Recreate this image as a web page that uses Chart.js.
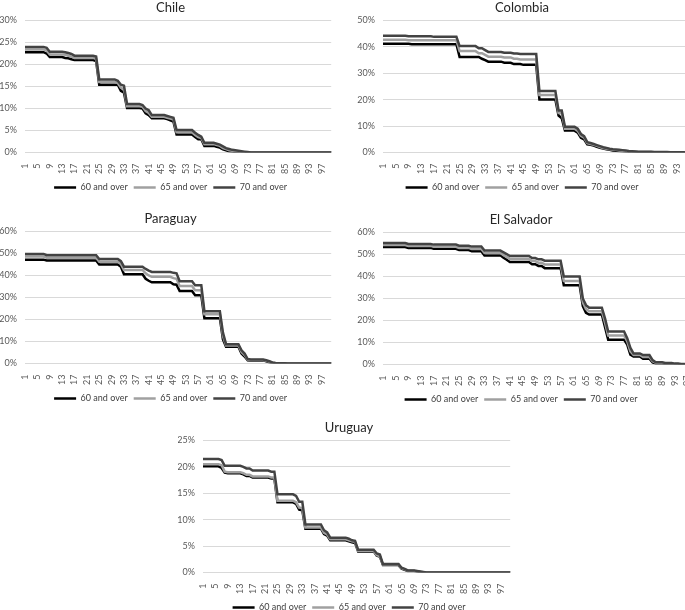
<!DOCTYPE html>
<html>
<head>
<meta charset="utf-8">
<title>Share by age threshold</title>
<script src="https://cdn.jsdelivr.net/npm/chart.js@4.4.1/dist/chart.umd.min.js"></script>
<style>
  html, body { margin: 0; padding: 0; background: #fff; overflow: hidden; }
  #page { position: relative; width: 685px; height: 610px; overflow: hidden; }
  .panel { position: absolute; }
</style>
</head>
<body>
<div id="page">
  <div class="panel" style="left:0px;top:0px"><canvas id="chile" width="345" height="202"></canvas></div>
  <div class="panel" style="left:345px;top:0px"><canvas id="colombia" width="372" height="202"></canvas></div>
  <div class="panel" style="left:0px;top:211px"><canvas id="paraguay" width="345" height="202"></canvas></div>
  <div class="panel" style="left:345px;top:212px"><canvas id="salvador" width="366" height="202"></canvas></div>
  <div class="panel" style="left:178px;top:420px"><canvas id="uruguay" width="346" height="202"></canvas></div>
</div>
<script>
const ages = Array.from({ length: 100 }, (_, i) => i + 1);
const seriesNames = ['60 and over', '65 and over', '70 and over'];
const seriesColors = ['#000000', '#a0a0a0', '#434343'];

const chile60 = [
  22.8, 22.8, 22.8, 22.8, 22.8, 22.8, 22.8, 22.5, 21.7, 21.7,
  21.7, 21.7, 21.7, 21.5, 21.4, 21.2, 21.0, 21.0, 21.0, 21.0,
  21.0, 21.0, 21.0, 20.8, 15.4, 15.4, 15.4, 15.4, 15.4, 15.4,
  15.4, 14.0, 13.6, 10.1, 10.1, 10.1, 10.1, 10.1, 10.0, 8.9,
  8.5, 7.8, 7.8, 7.8, 7.8, 7.8, 7.6, 7.3, 7.0, 4.1,
  4.1, 4.1, 4.1, 4.1, 4.1, 3.5, 3.0, 3.0, 1.5, 1.5,
  1.5, 1.5, 1.3, 1.1, 0.7, 0.5, 0.3, 0.2, 0.15, 0.1,
  0.05, 0, 0, 0, 0, 0, 0, 0, 0, 0,
  0, 0, 0, 0, 0, 0, 0, 0, 0, 0,
  0, 0, 0, 0, 0, 0, 0, 0, 0, 0
];
const chile65 = [
  23.4, 23.4, 23.4, 23.4, 23.4, 23.4, 23.4, 23.2, 22.3, 22.3,
  22.3, 22.3, 22.3, 22.2, 22.0, 21.8, 21.5, 21.5, 21.5, 21.5,
  21.5, 21.5, 21.5, 21.3, 16.0, 16.0, 16.0, 16.0, 16.0, 16.0,
  15.8, 14.7, 14.4, 10.5, 10.5, 10.5, 10.5, 10.5, 10.4, 9.4,
  9.0, 8.1, 8.1, 8.1, 8.1, 8.1, 7.9, 7.7, 7.5, 4.6,
  4.6, 4.6, 4.6, 4.6, 4.6, 4.0, 3.5, 3.3, 1.9, 1.9,
  1.9, 1.9, 1.7, 1.5, 1.0, 0.8, 0.5, 0.4, 0.3, 0.2,
  0.1, 0.05, 0, 0, 0, 0, 0, 0, 0, 0,
  0, 0, 0, 0, 0, 0, 0, 0, 0, 0,
  0, 0, 0, 0, 0, 0, 0, 0, 0, 0
];
const chile70 = [
  24.0, 24.0, 24.0, 24.0, 24.0, 24.0, 24.0, 23.8, 22.9, 22.9,
  22.9, 22.9, 22.9, 22.8, 22.6, 22.4, 22.0, 22.0, 22.0, 22.0,
  22.0, 22.0, 22.0, 21.8, 16.6, 16.6, 16.6, 16.6, 16.6, 16.6,
  16.3, 15.4, 15.2, 11.0, 11.0, 11.0, 11.0, 11.0, 10.8, 10.0,
  9.6, 8.5, 8.5, 8.5, 8.5, 8.5, 8.3, 8.1, 7.9, 5.1,
  5.1, 5.1, 5.1, 5.1, 5.1, 4.5, 4.0, 3.6, 2.2, 2.2,
  2.2, 2.2, 2.0, 1.8, 1.4, 1.0, 0.8, 0.6, 0.5, 0.4,
  0.3, 0.2, 0.1, 0, 0, 0, 0, 0, 0, 0,
  0, 0, 0, 0, 0, 0, 0, 0, 0, 0,
  0, 0, 0, 0, 0, 0, 0, 0, 0, 0
];

const colombia60 = [
  41.2, 41.2, 41.2, 41.2, 41.2, 41.2, 41.2, 41.2, 41.2, 41.0,
  41.0, 41.0, 41.0, 41.0, 41.0, 41.0, 41.0, 41.0, 41.0, 41.0,
  41.0, 41.0, 41.0, 41.0, 36.2, 36.2, 36.2, 36.2, 36.2, 36.2,
  36.2, 35.5, 35.0, 34.4, 34.4, 34.4, 34.4, 34.4, 34.0, 34.0,
  34.0, 33.5, 33.5, 33.5, 33.2, 33.2, 33.2, 33.2, 33.2, 20.1,
  20.1, 20.1, 20.1, 20.1, 20.1, 14.0, 13.0, 8.3, 8.3, 8.3,
  8.3, 7.5, 5.6, 5.0, 3.1, 2.9, 2.6, 2.2, 1.8, 1.5,
  1.2, 1.0, 0.8, 0.7, 0.6, 0.5, 0.4, 0.3, 0.2, 0.2,
  0.1, 0.1, 0.1, 0.1, 0.1, 0.05, 0.05, 0.05, 0.05, 0.05,
  0, 0, 0, 0, 0, 0, 0, 0, 0, 0
];
const colombia65 = [
  42.7, 42.7, 42.7, 42.7, 42.7, 42.7, 42.7, 42.7, 42.5, 42.5,
  42.5, 42.5, 42.5, 42.5, 42.5, 42.5, 42.5, 42.5, 42.5, 42.5,
  42.5, 42.5, 42.5, 42.5, 38.4, 38.4, 38.4, 38.4, 38.4, 38.4,
  37.6, 37.6, 37.0, 36.3, 36.3, 36.3, 36.3, 36.3, 36.0, 36.0,
  36.0, 35.5, 35.5, 35.2, 35.2, 35.2, 35.2, 35.2, 35.2, 21.8,
  21.8, 21.8, 21.8, 21.8, 21.8, 15.0, 15.0, 9.0, 9.0, 9.0,
  9.0, 8.2, 6.3, 5.6, 3.5, 3.2, 2.9, 2.5, 2.1, 1.7,
  1.4, 1.2, 1.0, 0.9, 0.8, 0.7, 0.6, 0.4, 0.3, 0.3,
  0.2, 0.2, 0.2, 0.2, 0.2, 0.1, 0.1, 0.1, 0.1, 0.1,
  0.05, 0.05, 0.05, 0.05, 0.05, 0, 0, 0, 0, 0
];
const colombia70 = [
  44.2, 44.2, 44.2, 44.2, 44.2, 44.2, 44.2, 44.2, 44.0, 44.0,
  44.0, 44.0, 44.0, 44.0, 44.0, 44.0, 43.8, 43.8, 43.8, 43.8,
  43.8, 43.8, 43.8, 43.8, 40.3, 40.3, 40.3, 40.3, 40.3, 40.3,
  39.5, 39.5, 38.8, 38.1, 38.1, 38.1, 38.1, 38.1, 37.8, 37.8,
  37.8, 37.5, 37.5, 37.3, 37.3, 37.3, 37.3, 37.3, 37.3, 23.3,
  23.3, 23.3, 23.3, 23.3, 23.3, 15.9, 15.9, 9.8, 9.8, 9.8,
  9.8, 9.0, 7.0, 6.2, 3.9, 3.6, 3.2, 2.8, 2.4, 2.0,
  1.7, 1.4, 1.2, 1.1, 1.0, 0.9, 0.8, 0.6, 0.5, 0.4,
  0.3, 0.3, 0.3, 0.3, 0.3, 0.2, 0.2, 0.2, 0.2, 0.2,
  0.1, 0.1, 0.1, 0.1, 0.1, 0, 0, 0, 0, 0
];

const paraguay60 = [
  47.2, 47.2, 47.2, 47.2, 47.2, 47.2, 47.2, 46.8, 46.8, 46.8,
  46.8, 46.8, 46.8, 46.8, 46.8, 46.8, 46.8, 46.8, 46.8, 46.8,
  46.8, 46.8, 46.8, 46.8, 45.0, 45.0, 45.0, 45.0, 45.0, 45.0,
  45.0, 44.0, 40.6, 40.6, 40.6, 40.6, 40.6, 40.6, 40.6, 38.5,
  37.6, 36.9, 36.9, 36.9, 36.9, 36.9, 36.9, 36.9, 36.0, 35.8,
  32.9, 32.9, 32.9, 32.9, 32.9, 31.0, 31.0, 31.0, 20.6, 20.6,
  20.6, 20.6, 20.6, 20.6, 11.0, 7.6, 7.6, 7.6, 7.6, 7.6,
  4.5, 3.2, 1.5, 1.4, 1.4, 1.4, 1.4, 1.4, 1.0, 0.6,
  0.2, 0.1, 0.05, 0.05, 0.05, 0, 0, 0, 0, 0,
  0, 0, 0, 0, 0, 0, 0, 0, 0, 0
];
const paraguay65 = [
  48.6, 48.6, 48.6, 48.6, 48.6, 48.6, 48.6, 48.1, 48.1, 48.1,
  48.1, 48.1, 48.1, 48.1, 48.1, 48.1, 48.1, 48.1, 48.1, 48.1,
  48.1, 48.1, 48.1, 48.1, 46.3, 46.3, 46.3, 46.3, 46.3, 46.3,
  46.3, 45.3, 42.5, 42.5, 42.5, 42.5, 42.5, 42.5, 42.5, 41.0,
  40.0, 39.4, 39.4, 39.4, 39.4, 39.4, 39.4, 39.4, 38.8, 38.5,
  35.2, 35.2, 35.2, 35.2, 35.2, 33.3, 33.3, 33.3, 22.4, 22.4,
  22.4, 22.4, 22.4, 22.4, 12.5, 8.2, 8.2, 8.2, 8.2, 8.2,
  5.2, 3.8, 1.8, 1.6, 1.6, 1.6, 1.6, 1.6, 1.2, 0.8,
  0.3, 0.15, 0.05, 0.05, 0.05, 0, 0, 0, 0, 0,
  0, 0, 0, 0, 0, 0, 0, 0, 0, 0
];
const paraguay70 = [
  49.8, 49.8, 49.8, 49.8, 49.8, 49.8, 49.8, 49.2, 49.2, 49.2,
  49.2, 49.2, 49.2, 49.2, 49.2, 49.2, 49.2, 49.2, 49.2, 49.2,
  49.2, 49.2, 49.2, 49.2, 47.5, 47.5, 47.5, 47.5, 47.5, 47.5,
  47.5, 46.5, 44.0, 44.0, 44.0, 44.0, 44.0, 44.0, 44.0, 43.0,
  42.2, 41.6, 41.6, 41.6, 41.6, 41.6, 41.6, 41.6, 41.2, 41.0,
  37.4, 37.4, 37.4, 37.4, 37.4, 35.6, 35.6, 35.6, 23.8, 23.8,
  23.8, 23.8, 23.8, 23.8, 14.0, 8.8, 8.8, 8.8, 8.8, 8.8,
  6.0, 4.5, 2.0, 1.8, 1.8, 1.8, 1.8, 1.8, 1.5, 1.0,
  0.5, 0.2, 0.1, 0.1, 0.1, 0, 0, 0, 0, 0,
  0, 0, 0, 0, 0, 0, 0, 0, 0, 0
];

const salvador60 = [
  53.4, 53.4, 53.4, 53.4, 53.4, 53.4, 53.4, 53.4, 53.0, 53.0,
  53.0, 53.0, 53.0, 53.0, 53.0, 53.0, 52.6, 52.6, 52.6, 52.6,
  52.6, 52.6, 52.6, 52.6, 52.0, 52.0, 52.0, 52.0, 51.5, 51.5,
  51.5, 51.5, 49.6, 49.6, 49.6, 49.6, 49.6, 49.6, 48.5, 47.6,
  46.6, 46.6, 46.6, 46.6, 46.6, 46.6, 46.6, 45.6, 45.6, 44.8,
  44.8, 43.8, 43.8, 43.8, 43.8, 43.8, 43.8, 36.0, 36.0, 36.0,
  36.0, 36.0, 36.0, 26.5, 23.5, 22.7, 22.7, 22.7, 22.7, 22.7,
  17.0, 11.3, 11.3, 11.3, 11.3, 11.3, 11.3, 9.0, 4.5, 3.6,
  3.6, 3.6, 2.6, 2.6, 2.6, 1.0, 0.5, 0.5, 0.5, 0.3,
  0.3, 0.3, 0.15, 0.15, 0.05, 0.05, 0, 0, 0, 0
];
const salvador65 = [
  54.3, 54.3, 54.3, 54.3, 54.3, 54.3, 54.3, 54.3, 53.9, 53.9,
  53.9, 53.9, 53.9, 53.9, 53.9, 53.9, 53.5, 53.5, 53.5, 53.5,
  53.5, 53.5, 53.5, 53.5, 53.0, 53.0, 53.0, 53.0, 52.5, 52.5,
  52.5, 52.5, 50.7, 50.7, 50.7, 50.7, 50.7, 50.7, 49.7, 48.9,
  47.9, 47.9, 47.9, 47.9, 47.9, 47.9, 47.9, 47.0, 47.0, 46.3,
  46.3, 45.5, 45.5, 45.5, 45.5, 45.5, 45.5, 38.0, 38.0, 38.0,
  38.0, 38.0, 38.0, 28.2, 25.2, 24.2, 24.2, 24.2, 24.2, 24.2,
  19.0, 13.2, 13.2, 13.2, 13.2, 13.2, 13.2, 10.5, 6.0, 4.3,
  4.3, 4.3, 3.4, 3.4, 3.4, 1.5, 0.75, 0.75, 0.75, 0.5,
  0.5, 0.5, 0.25, 0.25, 0.1, 0.1, 0, 0, 0, 0
];
const salvador70 = [
  55.2, 55.2, 55.2, 55.2, 55.2, 55.2, 55.2, 55.2, 54.8, 54.8,
  54.8, 54.8, 54.8, 54.8, 54.8, 54.8, 54.5, 54.5, 54.5, 54.5,
  54.5, 54.5, 54.5, 54.5, 54.0, 54.0, 54.0, 54.0, 53.6, 53.6,
  53.6, 53.6, 51.8, 51.8, 51.8, 51.8, 51.8, 51.8, 51.0, 50.2,
  49.3, 49.3, 49.3, 49.3, 49.3, 49.3, 49.3, 48.4, 48.4, 47.8,
  47.8, 47.2, 47.2, 47.2, 47.2, 47.2, 47.2, 40.0, 40.0, 40.0,
  40.0, 40.0, 40.0, 30.0, 27.0, 25.8, 25.8, 25.8, 25.8, 25.8,
  21.0, 15.0, 15.0, 15.0, 15.0, 15.0, 15.0, 12.0, 7.6, 5.0,
  5.0, 5.0, 4.3, 4.3, 4.3, 2.0, 1.0, 1.0, 1.0, 0.7,
  0.7, 0.7, 0.4, 0.4, 0.2, 0.2, 0, 0, 0, 0
];

const uruguay60 = [
  20.1, 20.1, 20.1, 20.1, 20.1, 20.1, 19.8, 18.9, 18.8, 18.8,
  18.8, 18.8, 18.8, 18.6, 18.3, 18.3, 18.0, 18.0, 18.0, 18.0,
  18.0, 18.0, 17.8, 17.8, 13.3, 13.3, 13.3, 13.3, 13.3, 13.3,
  13.0, 11.9, 11.8, 8.3, 8.3, 8.3, 8.3, 8.3, 8.3, 7.3,
  7.0, 6.1, 6.1, 6.1, 6.1, 6.1, 6.1, 5.9, 5.7, 5.6,
  4.0, 4.0, 4.0, 4.0, 4.0, 4.0, 3.2, 3.0, 1.4, 1.4,
  1.4, 1.4, 1.4, 1.4, 0.7, 0.5, 0.3, 0.3, 0.3, 0.2,
  0.1, 0.05, 0, 0, 0, 0, 0, 0, 0, 0,
  0, 0, 0, 0, 0, 0, 0, 0, 0, 0,
  0, 0, 0, 0, 0, 0, 0, 0, 0, 0
];
const uruguay65 = [
  20.5, 20.5, 20.5, 20.5, 20.5, 20.5, 20.3, 19.1, 19.0, 19.0,
  19.0, 19.0, 19.0, 18.8, 18.5, 18.5, 18.2, 18.2, 18.2, 18.2,
  18.2, 18.2, 18.0, 18.0, 13.6, 13.6, 13.6, 13.6, 13.6, 13.6,
  13.3, 12.3, 12.2, 8.5, 8.5, 8.5, 8.5, 8.5, 8.5, 7.5,
  7.2, 6.3, 6.3, 6.3, 6.3, 6.3, 6.3, 6.1, 5.9, 5.8,
  4.1, 4.1, 4.1, 4.1, 4.1, 4.1, 3.3, 3.1, 1.5, 1.5,
  1.5, 1.5, 1.5, 1.5, 0.8, 0.6, 0.35, 0.35, 0.35, 0.25,
  0.15, 0.05, 0, 0, 0, 0, 0, 0, 0, 0,
  0, 0, 0, 0, 0, 0, 0, 0, 0, 0,
  0, 0, 0, 0, 0, 0, 0, 0, 0, 0
];
const uruguay70 = [
  21.5, 21.5, 21.5, 21.5, 21.5, 21.5, 21.3, 20.2, 20.2, 20.2,
  20.2, 20.2, 20.2, 20.0, 19.7, 19.7, 19.3, 19.3, 19.3, 19.3,
  19.3, 19.3, 19.1, 19.1, 14.8, 14.8, 14.8, 14.8, 14.8, 14.8,
  14.5, 13.4, 13.4, 9.1, 9.1, 9.1, 9.1, 9.1, 9.1, 8.0,
  7.6, 6.6, 6.6, 6.6, 6.6, 6.6, 6.6, 6.4, 6.1, 6.0,
  4.3, 4.3, 4.3, 4.3, 4.3, 4.3, 3.6, 3.4, 1.6, 1.6,
  1.6, 1.6, 1.6, 1.6, 0.9, 0.7, 0.4, 0.4, 0.4, 0.3,
  0.2, 0.1, 0, 0, 0, 0, 0, 0, 0, 0,
  0, 0, 0, 0, 0, 0, 0, 0, 0, 0,
  0, 0, 0, 0, 0, 0, 0, 0, 0, 0
];

const fontFamily = "Lato, 'Open Sans', 'Liberation Sans', sans-serif";

function drawPanel(id, title, series, yMax, yStep, axisWidth, padRight) {
  const datasets = series.map((values, i) => ({
    label: seriesNames[i],
    data: values,
    borderColor: seriesColors[i],
    backgroundColor: seriesColors[i],
    borderWidth: 2.5,
    pointRadius: 0,
    tension: 0,
    fill: false,
    order: 3 - i   // 70 and over drawn on top, like the original
  }));

  new Chart(document.getElementById(id), {
    type: 'line',
    data: { labels: ages, datasets: datasets },
    options: {
      responsive: false,
      animation: false,
      devicePixelRatio: 1,
      layout: { padding: { left: 0, right: padRight, top: 0, bottom: 0 } },
      plugins: {
        title: {
          display: true,
          text: title,
          color: '#262626',
          font: { family: fontFamily, size: 13, weight: 'normal' },
          padding: { top: 0, bottom: 4.9 }
        },
        legend: {
          position: 'bottom',
          labels: {
            usePointStyle: true,
            pointStyle: 'line',
            pointStyleWidth: 22,
            padding: 6,
            color: '#404040',
            font: { family: fontFamily, size: 9 },
            sort: (a, b) => a.datasetIndex - b.datasetIndex
          }
        },
        tooltip: { enabled: false }
      },
      scales: {
        x: {
          offset: false,
          grid: { display: false },
          border: { display: false },
          afterFit: (scale) => { scale.height = 24.5; },
          ticks: {
            autoSkip: false,
            minRotation: 90,
            maxRotation: 90,
            padding: 3,
            color: '#595959',
            font: { family: fontFamily, size: 9 },
            callback: (value, index) => (index % 4 === 0 ? String(ages[index]) : '')
          }
        },
        y: {
          min: 0,
          max: yMax,
          grid: { color: '#d9d9d9', lineWidth: 1, drawTicks: false },
          border: { display: false },
          afterFit: (scale) => { scale.width = axisWidth; },
          ticks: {
            stepSize: yStep,
            padding: 8,
            color: '#595959',
            font: { family: fontFamily, size: 9 },
            callback: (value) => value + '%'
          }
        }
      }
    }
  });
}

drawPanel('chile', 'Chile', [chile60, chile65, chile70], 30, 5, 25, 4);
drawPanel('colombia', 'Colombia', [colombia60, colombia65, colombia70], 50, 5, 38, 18);
drawPanel('paraguay', 'Paraguay', [paraguay60, paraguay65, paraguay70], 60, 10, 25, 4);
drawPanel('salvador', 'El Salvador', [salvador60, salvador65, salvador70], 60, 10, 38, 14);
drawPanel('uruguay', 'Uruguay', [uruguay60, uruguay65, uruguay70], 25, 5, 25, 4);
</script>
</body>
</html>
